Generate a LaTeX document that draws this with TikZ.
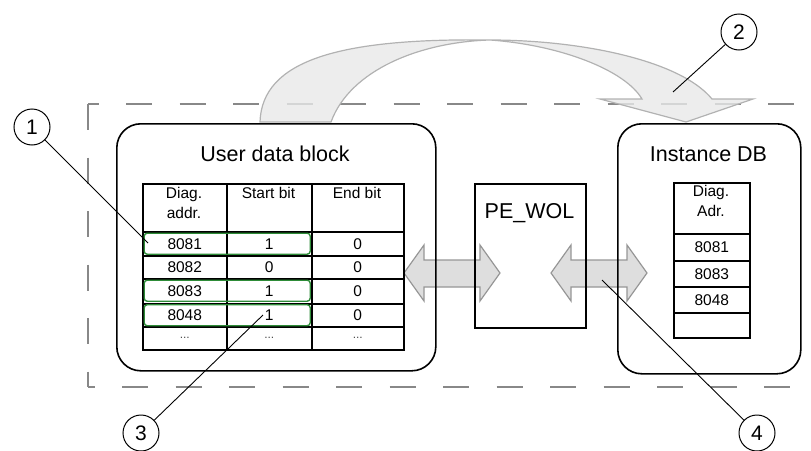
\documentclass[tikz,border=0pt]{standalone}
\usepackage{fontspec}
\setmainfont{Liberation Sans}
\definecolor{dashgray}{RGB}{136,136,136}
\definecolor{hlgreen}{RGB}{46,140,56}
\definecolor{arrfill}{RGB}{222,222,222}
\definecolor{arredge}{RGB}{150,150,150}
\definecolor{bigfill}{RGB}{232,233,233}
\definecolor{bigedge}{RGB}{178,178,178}
\begin{document}
\begin{tikzpicture}[x=1pt,y=-1pt,
  blockbox/.style={draw=black, line width=1.6pt, rounded corners=24pt, inner sep=0pt, anchor=north west},
  cell/.style={draw=black, line width=1.5pt, inner sep=0pt, anchor=north west},
  txt/.style={font=\fontsize{15.5}{20}\selectfont, inner sep=0pt, align=center},
  dots/.style={font=\fontsize{12}{14}\selectfont, text=black!70, inner sep=0pt},
  titletxt/.style={font=\fontsize{21.5}{25}\selectfont, inner sep=0pt},
  dbl/.style={fill=arrfill, draw=arredge, line width=1.2pt, line join=miter},
  hl/.style={draw=hlgreen, line width=1.4pt, rounded corners=3pt, inner sep=0pt, anchor=north west},
  callout/.style={circle, draw=black, line width=1pt, fill=white, minimum size=36pt, inner sep=0pt, font=\fontsize{21}{24}\selectfont},
  lead/.style={draw=black, line width=0.9pt}]
\useasboundingbox (0,0) rectangle (811,450);

% dashed frame
\draw[dashgray, line width=2pt, dash pattern=on 26pt off 27.5pt, dash phase=15.5pt] (88,104) -- (811,104);
\draw[dashgray, line width=2pt, dash pattern=on 26pt off 27.5pt] (88,104) -- (88,387);
\draw[dashgray, line width=2pt, dash pattern=on 26pt off 27.5pt, dash phase=19.5pt] (88,387) -- (811,387);

% big curved arrow
\path[fill=bigfill, draw=bigedge, line width=1.2pt, fill opacity=0.8, line join=miter]
  (260,122) .. controls (262,60) and (340,38) .. (490,40)
  .. controls (580,40) and (680,60) .. (712,99)
  -- (753,99) -- (686,122) -- (600,99) -- (642,99)
  .. controls (625,70) and (560,45) .. (490,40)
  .. controls (420,42) and (350,70) .. (331,122) -- cycle;

% double arrows
\path[dbl] (404,273) -- (424,245) -- (424,260) -- (480,260) -- (480,245) -- (500,273)
  -- (480,301) -- (480,287) -- (424,287) -- (424,301) -- cycle;
\path[dbl] (551,273) -- (571,245) -- (571,260) -- (627,260) -- (627,245) -- (647,273)
  -- (627,301) -- (627,287) -- (571,287) -- (571,301) -- cycle;

% user data block
\node[blockbox, minimum width=319pt, minimum height=247pt] (udb) at (116,123) {};
\node[titletxt] (udbtitle) at (275,154) {User data block};

\foreach \c/\xa/\xb in {1/142/226, 2/226/311, 3/311/403} {
  \foreach \r/\ya/\yb in {0/183/231, 1/231/255, 2/255/278, 3/278/303, 4/303/326, 5/326/349} {
    \node[cell, minimum width={(\xb-\xa)*1pt}, minimum height={(\yb-\ya)*1pt}] (u\c\r) at (\xa,\ya) {};
  }
}
\node[txt, anchor=north] (h1) at (184,187) {Diag.\\addr.};
\node[txt, anchor=north] (h2) at (268.5,187) {Start bit};
\node[txt, anchor=north] (h3) at (357,187) {End bit};

\foreach \r/\a/\b/\d in {1/8081/1/0, 2/8082/0/0, 3/8083/1/0, 4/8048/1/0} {
  \node[txt] (t1\r) at (u1\r) {\a};
  \node[txt] (t2\r) at (u2\r) {\b};
  \node[txt] (t3\r) at (u3\r) {\d};
}
\node[dots] (t15) at (u15) {...};
\node[dots] (t25) at (u25) {...};
\node[dots] (t35) at (u35) {...};

% green highlights
\node[hl, minimum width=166pt, minimum height=21pt] (g1) at (143.5,232.5) {};
\node[hl, minimum width=166pt, minimum height=21pt] (g3) at (143.5,279.5) {};
\node[hl, minimum width=166pt, minimum height=21pt] (g4) at (143.5,304) {};

% PE_WOL
\node[draw=black, line width=1.5pt, inner sep=0pt, anchor=north west, minimum width=111pt, minimum height=144pt] (pe) at (474,183) {};
\node[titletxt] (petxt) at (529.5,213) {PE\_WOL};

% Instance DB
\node[blockbox, minimum width=183pt, minimum height=250pt] (idb) at (617,123) {};
\node[titletxt] (idbtitle) at (708.5,154) {Instance DB};
\foreach \r/\ya/\yb in {0/182/233, 1/233/260, 2/260/286, 3/286/312, 4/312/337} {
  \node[cell, minimum width=76pt, minimum height={(\yb-\ya)*1pt}] (i\r) at (673,\ya) {};
}
\node[txt, anchor=north] (ih) at (711,185) {Diag.\\Adr.};
\node[txt] (i1t) at (i1) {8081};
\node[txt] (i2t) at (i2) {8083};
\node[txt] (i3t) at (i3) {8048};

% callouts
\coordinate (p1) at (148,243);
\coordinate (p2) at (673,92);
\coordinate (p3) at (263,315);
\coordinate (p4) at (602,280);
\node[callout] (c1) at (32,127) {1};
\node[callout] (c2) at (739,32) {2};
\node[callout] (c3) at (141,433) {3};
\node[callout] (c4) at (757,433) {4};
\draw[lead] (c1) -- (p1);
\draw[lead] (c2) -- (p2);
\draw[lead] (c3) -- (p3);
\draw[lead] (c4) -- (p4);
\end{tikzpicture}
\end{document}
